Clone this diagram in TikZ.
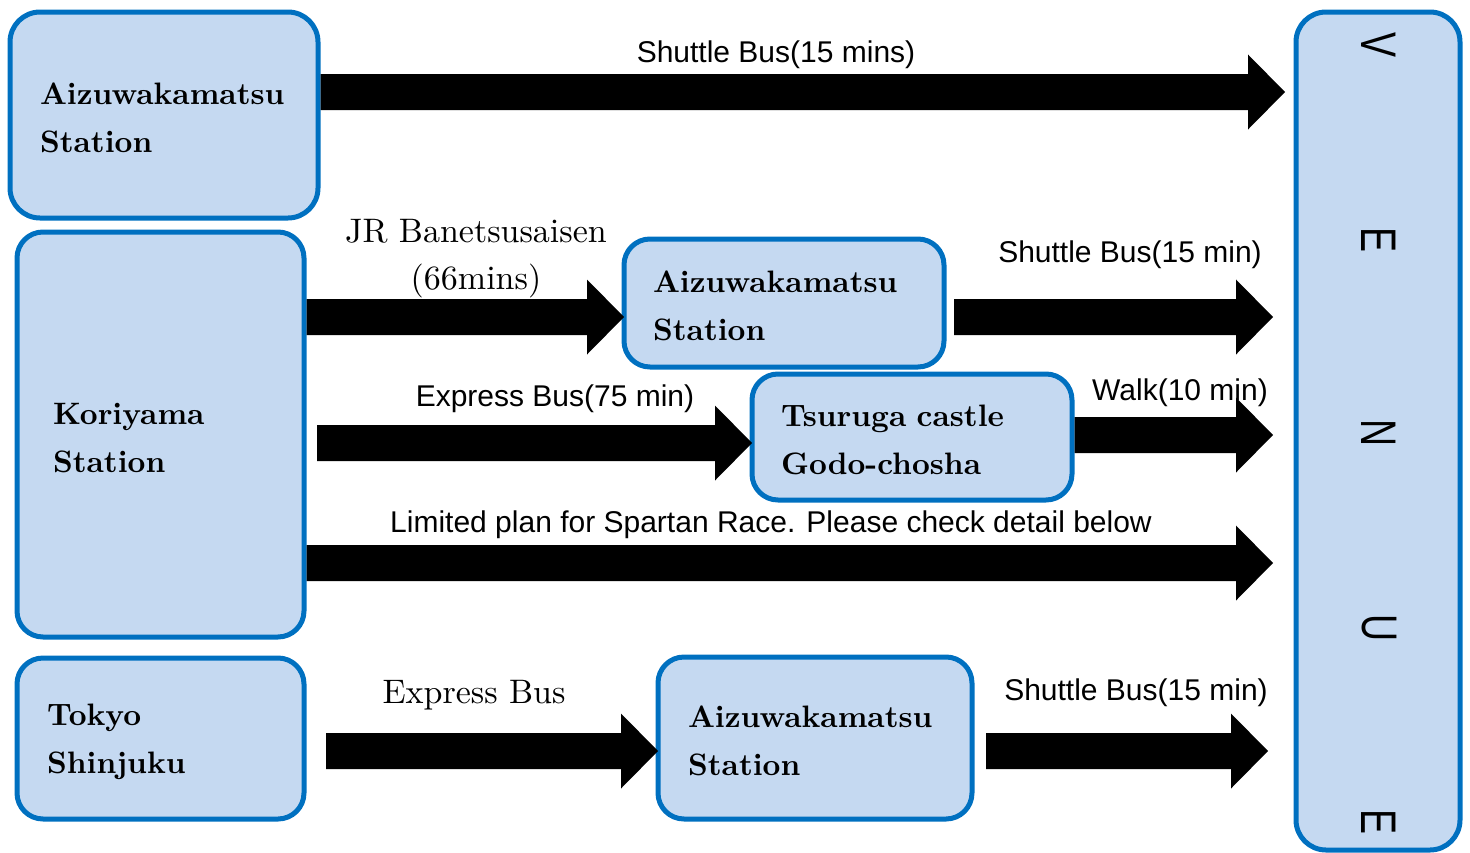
\documentclass[tikz,border=0pt]{standalone}
\usepackage{fontspec}
\usepackage{graphicx}
\usetikzlibrary{calc}
\setmainfont{lmroman10-regular}[Extension=.otf,BoldFont=lmroman10-bold]
\newfontfamily\lblfont{Liberation Sans}
\definecolor{boxblue}{RGB}{197,217,241}
\definecolor{edgeblue}{RGB}{0,112,192}

\begin{document}
\begin{tikzpicture}[x=1pt,y=-1pt,
    station/.style={draw=edgeblue,fill=boxblue,line width=5pt,rounded corners=26pt,
        inner xsep=30pt,inner ysep=0pt,align=left,
        font=\fontsize{31}{48}\selectfont\bfseries,
        execute at begin node={\rule{0pt}{28pt}}},
    lbl/.style={font=\lblfont\fontsize{30}{36}\selectfont,inner sep=0pt},
    serif/.style={font=\fontsize{34}{47}\selectfont,align=center,inner sep=0pt},
    blockarrow/.style={to path={
        let \p1=(\tikztostart), \p2=(\tikztotarget) in
        (\x1,\y1+18pt) -- (\x2-37pt,\y1+18pt) -- (\x2-37pt,\y1+37.5pt) -- (\x2,\y1)
        -- (\x2-37pt,\y1-37.5pt) -- (\x2-37pt,\y1-18pt) -- (\x1,\y1-18pt) -- cycle}}]
    \useasboundingbox (0,0) rectangle (1470,852);

    % Draw stations on the left
    \node[station,text width=248pt,minimum height=206pt,rounded corners=30pt] (aizuA) at (164,115) {Aizuwakamatsu\\Station};
    \node[station,inner xsep=36pt,text width=215pt,minimum height=405pt] (koriyama) at (160.5,434.5) {Koriyama\\Station};
    \node[station,text width=227pt,minimum height=161pt] (tokyo) at (160.5,738.5) {Tokyo\\Shinjuku};

    % Draw stations in the middle
    \node[station,inner xsep=29pt,text width=262pt,minimum height=128pt] (aizuB) at (784,303) {Aizuwakamatsu\\Station};
    \node[station,inner xsep=29pt,text width=262pt,minimum height=126pt] (tsuruga) at (912,437) {Tsuruga castle\\Godo-chosha};
    \node[station,text width=254pt,minimum height=162pt] (aizuC) at (815,738) {Aizuwakamatsu\\Station};

    % Draw venue
    \node[draw=edgeblue,fill=boxblue,line width=5pt,rounded corners=30pt,
        minimum width=164pt,minimum height=838pt] (venue) at (1378,431) {};
    \foreach \ch/\yy [count=\i] in {V/45,E/240,N/433,U/628,E/822}
        \node[lbl,font=\lblfont\fontsize{50}{50}\selectfont,rotate=-90] (venue\i) at (1379,\yy) {\scalebox{0.75}[1]{\ch}};

    % Draw labels
    \node[lbl] (shuttleA) at (776,55) {Shuttle Bus(15 mins)};
    \node[serif] (jr) at (476,259) {JR Banetsusaisen\\(66mins)};
    \node[lbl] (shuttleB) at (1130,255) {Shuttle Bus(15 min)};
    \node[lbl] (expressA) at (555,399) {Express Bus(75 min)};
    \node[lbl] (walk) at (1180,393) {Walk(10 min)};
    \node[lbl] (limited) at (771,525) {Limited plan for Spartan Race. Please check detail below};
    \node[serif] (expressB) at (474,695) {Express Bus};
    \node[lbl] (shuttleC) at (1136,693) {Shuttle Bus(15 min)};

    % Draw arrows
    \fill ([yshift=23pt]aizuA.east) to[blockarrow] ([xshift=-8.5pt]venue.west);
    \fill ([yshift=117.5pt]koriyama.east) to[blockarrow] ([xshift=2.5pt]aizuB.west);
    \fill ([xshift=7.5pt,yshift=-14pt]aizuB.east) to[blockarrow] ([xshift=-20.5pt]venue.west);
    \fill ([xshift=10.5pt,yshift=-8.5pt]koriyama.east) to[blockarrow] ([xshift=2.5pt]tsuruga.west);
    \fill ([yshift=2pt]tsuruga.east) to[blockarrow] ([xshift=-20.5pt]venue.west);
    \fill ([yshift=-128.5pt]koriyama.east) to[blockarrow] ([xshift=-20.5pt]venue.west);
    \fill ([xshift=19.5pt,yshift=-12.5pt]tokyo.east) to[blockarrow] ([xshift=2.5pt]aizuC.west);
    \fill ([xshift=11.5pt,yshift=-13pt]aizuC.east) to[blockarrow] ([xshift=-25.5pt]venue.west);
\end{tikzpicture}
\end{document}
